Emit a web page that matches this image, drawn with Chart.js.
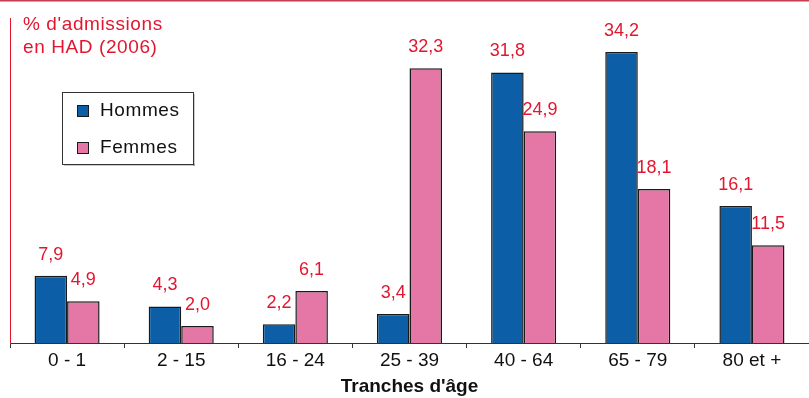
<!DOCTYPE html>
<html>
<head>
<meta charset="utf-8">
<script src="https://cdn.jsdelivr.net/npm/chart.js@4"></script>
<style>
  html, body { margin: 0; padding: 0; background: #fff; }
  #wrap { width: 809px; height: 398px; position: relative; }
</style>
</head>
<body>
<div id="wrap"><canvas id="had"></canvas></div>
<script>
const ageGroups = ['0 - 1', '2 - 15', '16 - 24', '25 - 39', '40 - 64', '65 - 79', '80 et +'];
const hommes = [7.9, 4.3, 2.2, 3.4, 31.8, 34.2, 16.1];
const femmes = [4.9, 2.0, 6.1, 32.3, 24.9, 18.1, 11.5];
const yTitle = ["% d'admissions", 'en HAD (2006)'];
const xTitle = "Tranches d'âge";

const FONT = "'Liberation Sans', Arial, sans-serif";
const RED = '#e3152f';
const BLUE = '#0c5ea6';
const PINK = '#e577a6';

// value labels above each bar, french decimal comma
const valueLabels = {
  id: 'valueLabels',
  afterDatasetsDraw(chart) {
    const { ctx } = chart;
    ctx.save();
    ctx.fillStyle = RED;
    ctx.font = `18px ${FONT}`;
    ctx.textAlign = 'center';
    ctx.textBaseline = 'middle';
    chart.data.datasets.forEach((ds, i) => {
      chart.getDatasetMeta(i).data.forEach((bar, j) => {
        ctx.fillText(ds.data[j].toFixed(1).replace('.', ','), bar.x, bar.y - 21);
      });
    });
    ctx.restore();
  }
};

// top rule, y title and boxed legend
const decorations = {
  id: 'decorations',
  afterDraw(chart) {
    const { ctx } = chart;
    ctx.save();
    ctx.fillStyle = '#c63d52';
    ctx.fillRect(0, 0, chart.width, 1.5);

    ctx.fillStyle = RED;
    ctx.font = `19px ${FONT}`;
    ctx.letterSpacing = '0.6px';
    ctx.textAlign = 'left';
    ctx.textBaseline = 'alphabetic';
    ctx.fillText(yTitle[0], 23, 30);
    ctx.fillText(yTitle[1], 23, 53);

    // legend box
    const bx = 62, by = 92, bw = 131, bh = 72;
    ctx.fillStyle = '#9a9a9a';
    ctx.fillRect(bx + 2, by + bh, bw, 1.5);
    ctx.fillRect(bx + bw, by + 2, 1.5, bh);
    ctx.fillStyle = '#fff';
    ctx.fillRect(bx, by, bw, bh);
    ctx.strokeStyle = '#333';
    ctx.lineWidth = 1;
    ctx.strokeRect(bx + 0.5, by + 0.5, bw, bh);

    const rows = [by + 19, by + 56];
    chart.data.datasets.forEach((ds, i) => {
      const cy = rows[i];
      ctx.fillStyle = ds.backgroundColor;
      ctx.fillRect(77, cy - 6, 12, 12);
      ctx.strokeStyle = '#1a1a1a';
      ctx.strokeRect(77.5, cy - 5.5, 11, 11);
      ctx.fillStyle = '#111';
      ctx.font = `19px ${FONT}`;
      ctx.textBaseline = 'middle';
      ctx.fillText(ds.label, 100, cy);
    });
    ctx.restore();
  }
};

new Chart(document.getElementById('had'), {
  type: 'bar',
  data: {
    labels: ageGroups,
    datasets: [
      { label: 'Hommes', data: hommes, backgroundColor: BLUE, borderColor: '#1a1a1a', borderWidth: 1.5 },
      { label: 'Femmes', data: femmes, backgroundColor: PINK, borderColor: '#1a1a1a', borderWidth: 1.5 },
    ],
  },
  options: {
    responsive: true,
    maintainAspectRatio: false,
    animation: false,
    devicePixelRatio: 1,
    layout: { padding: { top: 18, left: 0, right: 0, bottom: 0 } },
    datasets: { bar: { categoryPercentage: 0.57, barPercentage: 1.0 } },
    plugins: { legend: { display: false }, tooltip: { enabled: false } },
    scales: {
      x: {
        grid: { display: true, drawOnChartArea: false, drawTicks: true, tickLength: 5, color: '#333', offset: true },
        border: { display: true, color: '#333', width: 1 },
        ticks: { color: '#111', font: { family: FONT, size: 19 }, padding: 1, maxRotation: 0 },
        title: { display: true, text: xTitle, color: '#111', font: { family: FONT, size: 19, weight: 'bold' }, padding: { top: 0, bottom: 0 } },
        afterFit: s => { s.height = 55; },
      },
      y: {
        min: 0,
        max: 38.2,
        grid: { display: false },
        border: { display: true, color: RED, width: 1 },
        ticks: { display: false },
        afterFit: s => { s.width = 10; },
      },
    },
  },
  plugins: [valueLabels, decorations],
});
</script>
</body>
</html>
